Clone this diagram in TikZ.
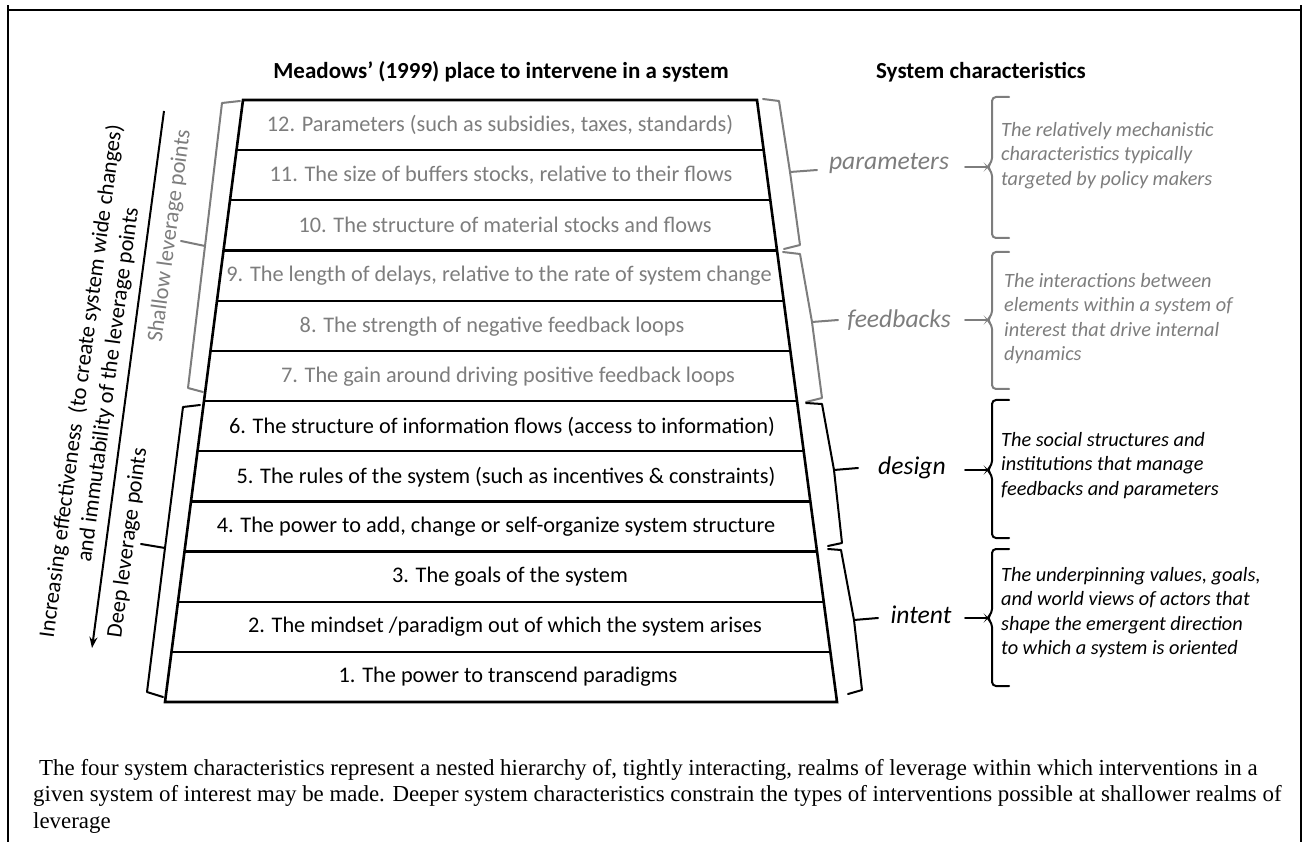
\documentclass[tikz,border=0pt]{standalone}
\usepackage{fontspec}
\setmainfont{Carlito}
\newfontfamily\capfont{Liberation Serif}
\usetikzlibrary{arrows.meta}
\definecolor{lgray}{RGB}{125,125,125}
\begin{document}
\begin{tikzpicture}[x=1pt,y=-1pt,
  every node/.style={inner sep=0pt},
  rowtext/.style={font=\fontsize{22.3}{25}\selectfont},
  shallow/.style={text=lgray},
  deep/.style={text=black},
  header/.style={font=\fontsize{23}{26}\selectfont\bfseries},
  realm/.style={font=\fontsize{25.6}{28}\selectfont\itshape},
  desc/.style={font=\fontsize{20.3}{24.5}\selectfont\itshape, align=left, anchor=north west},
  sidelabel/.style={font=\fontsize{22.4}{27}\selectfont, rotate=82.4, align=center},
  ladder/.style={line width=2.6pt, line join=miter},
  rung/.style={line width=2.3pt},
  bracket/.style={line width=2pt, line join=round, line cap=round},
  brace/.style={line width=2pt, rounded corners=4pt, line cap=round},
]
\useasboundingbox (0,0) rectangle (1310,842);

% page frame, open at the bottom
\draw[line width=2pt] (8,842) -- (8,5);
\draw[line width=2.5pt] (1301,842) -- (1301,5);
\draw[line width=2pt] (8,10) -- (1301,10);

% headers
\node[header] (hleft) at (501,72) {Meadows’ (1999) place to intervene in a system};
\node[header] (hright) at (981,72) {System characteristics};

% ladder corner points, one pair per rung
\foreach \i in {0,...,12}{
  \pgfmathsetmacro\yy{100+\i*50.17}
  \pgfmathsetmacro\xl{243-\i*6.5}
  \pgfmathsetmacro\xr{757+\i*6.67}
  \coordinate (L\i) at (\xl,\yy);
  \coordinate (R\i) at (\xr,\yy);
}
\draw[ladder] (L0) -- (R0) -- (R12) -- (L12) -- cycle;
\foreach \i in {1,...,11} \draw[rung] (L\i) -- (R\i);

% leverage points
\node[rowtext,shallow] (p12) at (500,125) {12. Parameters (such as subsidies, taxes, standards)};
\node[rowtext,shallow] (p11) at (501,175) {11. The size of buffers stocks, relative to their flows};
\node[rowtext,shallow] (p10) at (505,225) {10. The structure of material stocks and flows};
\node[rowtext,shallow] (p9)  at (499,276) {9. The length of delays, relative to the rate of system change};
\node[rowtext,shallow] (p8)  at (492,327) {8. The strength of negative feedback loops};
\node[rowtext,shallow] (p7)  at (508,377) {7. The gain around driving positive feedback loops};
\node[rowtext,deep] (p6) at (502,427) {6. The structure of information flows (access to information)};
\node[rowtext,deep] (p5) at (506,477) {5. The rules of the system (such as incentives \& constraints)};
\node[rowtext,deep] (p4) at (496,527) {4. The power to add, change or self-organize system structure};
\node[rowtext,deep] (p3) at (510,577) {3. The goals of the system};
\node[rowtext,deep] (p2) at (505,627) {2. The mindset /paradigm out of which the system arises};
\node[rowtext,deep] (p1) at (508,677) {1. The power to transcend paradigms};

% left side: direction of increasing effectiveness
\coordinate (atop) at (164,111);
\coordinate (abot) at (92,648);
\draw[line width=2pt, -{Stealth[length=11pt,width=8pt]}] (atop) -- (abot);
\node[sidelabel] (effect) at (95,383) {Increasing effectiveness\ \ (to create system wide changes)\\and immutability of the leverage points};

% left brackets
\draw[bracket, lgray] (240,101) -- (222,103) -- (205,246) -- (188,388) -- (203,392);
\draw[bracket, lgray] (205,246) -- (181,241);
\node[sidelabel, text=lgray] (shallowlbl) at (170,236) {Shallow leverage points};
\draw[bracket] (200,405) -- (183,407) -- (165,548) -- (147,692) -- (163,697);
\draw[bracket] (165,548) -- (141,544);
\node[sidelabel] (deeplbl) at (128,543) {Deep leverage points};

% right brackets grouping the leverage points
\draw[bracket, lgray] (763,99) -- (779,101) -- (790,172) -- (800,245) -- (784,249);
\draw[bracket, lgray] (790,172) -- (817,170);
\draw[bracket, lgray] (783,252) -- (800,254) -- (812,322) -- (822,398) -- (806,402);
\draw[bracket, lgray] (812,322) -- (838,320);
\draw[bracket] (806,403) -- (822,404) -- (834,470) -- (842,543) -- (828,546);
\draw[bracket] (834,470) -- (858,468);
\draw[bracket] (828,549) -- (841,550) -- (854,620) -- (862,690) -- (848,694);
\draw[bracket] (854,620) -- (878,618);

% realm names
\node[realm, text=lgray] (rpar) at (889,163) {parameters};
\node[realm, text=lgray] (rfb)  at (899,320) {feedbacks};
\node[realm] (rdes) at (912,468) {design};
\node[realm] (rint) at (921,615) {intent};

% braces with their leader dashes
\foreach \nm/\top/\mid/\bot/\col in {par/97/167/238/lgray, fb/252/320/389/lgray, des/400/470/538/black, int/549/618/686/black}{
  \coordinate (d\nm) at (965,\mid);
  \coordinate (b\nm) at (987,\mid);
  \draw[bracket, \col] (d\nm) -- (b\nm);
  \draw[brace, \col] (1009,\top) -- (992,\top) -- (992,\mid-5) -- (b\nm) -- (992,\mid+5) -- (992,\bot) -- (1009,\bot);
}

% descriptions
\node[desc, text=lgray] (tpar) at (1001,122) {The relatively mechanistic\\characteristics typically\\targeted by policy makers};
\node[desc, text=lgray] (tfb) at (1004,273) {The interactions between\\elements within a system of\\interest that drive internal\\dynamics};
\node[desc] (tdes) at (1001,432) {The social structures and\\institutions that manage\\feedbacks and parameters};
\node[desc] (tint) at (1001,567) {The underpinning values, goals,\\and world views of actors that\\shape the emergent direction\\to which a system is oriented};

% caption
\node[font=\capfont\fontsize{22.9}{26.5}\selectfont, align=left, anchor=north west] (caption) at (33,759)
  {\hspace{6pt}The four system characteristics represent a nested hierarchy of, tightly interacting, realms of leverage within which interventions in a\\given system of interest may be made. Deeper system characteristics constrain the types of interventions possible at shallower realms of\\leverage};
\end{tikzpicture}
\end{document}
